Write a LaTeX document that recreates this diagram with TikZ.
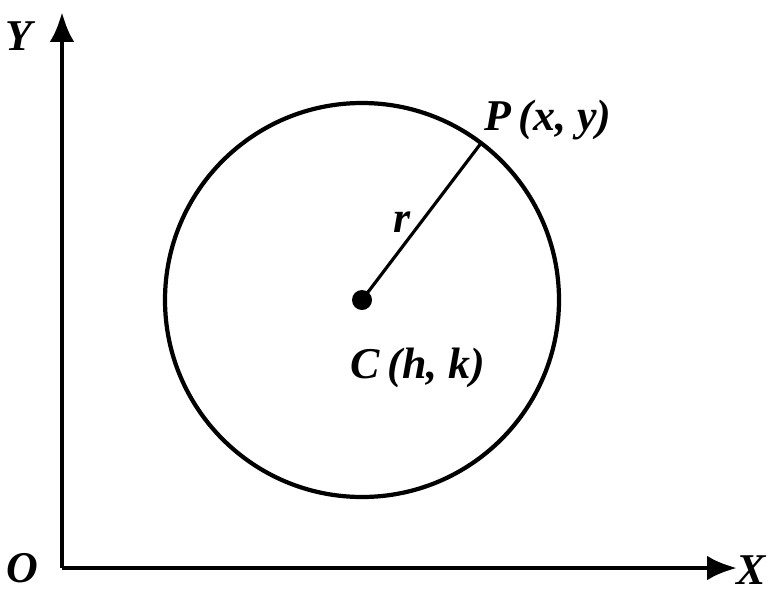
\documentclass[tikz,border=0pt]{standalone}
\usepackage{fontspec}
\setmainfont{Liberation Serif}
\usetikzlibrary{arrows.meta,positioning,calc}

\begin{document}
\begin{tikzpicture}[x=0.02cm, y=-0.02cm,
  every node/.style={font=\fontsize{25}{28}\selectfont\bfseries\itshape, inner sep=0pt},
  axis/.style={line width=2.6pt, -{Latex[length=17pt,width=14pt]}},
  rim/.style={line width=2.4pt},
  rad/.style={line width=1.8pt}]

\useasboundingbox (0,0) rectangle (770,592);

%% --- Axes ---
\coordinate (O) at (62,568);
\coordinate (Ytop) at (62,12);
\coordinate (Xend) at (737,568);
\draw[axis] (O) -- (Ytop);
\draw[axis] (O) -- (Xend);
\node (Olbl) at (22,568) {O};
\node (Ylbl) at (19,36) {Y};
\node (Xlbl) at (751,570) {X};

%% --- Circle and radius ---
\coordinate (C) at (362,300);
\draw[rim] (C) circle[radius=197];
\coordinate (P) at ($(C)+(-52.8:197)$);
\draw[rad] (C) -- (P);
\fill (C) circle[radius=10];

%% --- Labels ---
\node[anchor=south west] (Plbl) at (484,140) {P\,(x, y)};
\node (rlbl) at (402,222) {r};
\node (Clbl) at (418,368) {C\,(h, k)};
\end{tikzpicture}
\end{document}
